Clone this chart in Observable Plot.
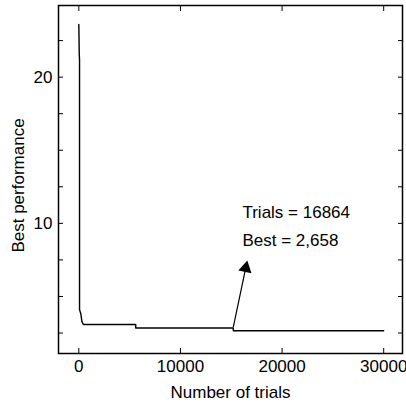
<!DOCTYPE html>
<html><head><meta charset="utf-8">
<script src="https://cdn.jsdelivr.net/npm/d3@7"></script>
<script src="https://cdn.jsdelivr.net/npm/@observablehq/plot@0.6"></script>
<style>body{margin:0;background:#fff}</style>
</head><body><div id="chart"></div>
<script>
// Data
const trials = [0, 40, 70, 70, 200, 300, 450, 5600, 5600, 15200, 15200, 30000];
const best   = [23.6, 21.6, 21.2, 4.1, 3.8, 3.3, 3.08, 3.08, 2.84, 2.84, 2.658, 2.658];
const xTicks = [0, 10000, 20000, 30000];
const yTicks = [2.5, 5, 7.5, 10, 12.5, 15, 17.5, 20, 22.5];
const yLabelled = [10, 20];
const annotationLines = ["Trials = 16864", "Best = 2,658"];
const annotationX = [16100, 16100];
const annotationY = [10.75, 8.84];
const arrowTail = [{x: 15200, y: 2.9}];
const arrowHead = [{x: 16420, y: 6.94}];

const data = trials.map((t, i) => ({t, b: best[i]}));
const links = [{x1: arrowTail[0].x, y1: arrowTail[0].y, x2: arrowHead[0].x, y2: arrowHead[0].y}];
const ann = annotationLines.map((s, i) => ({s, x: annotationX[i], y: annotationY[i]}));

const chart = Plot.plot({
  width: 406, height: 403,
  marginLeft: 58, marginRight: 4, marginTop: 5, marginBottom: 50,
  x: {domain: [-2000, 31850]},
  y: {domain: [1.1, 24.9]},
  style: {fontFamily: "'Liberation Sans', Arial, sans-serif", fontSize: "17px", background: "white", color: "black"},
  marks: [
    Plot.frame({stroke: "black", strokeWidth: 1.5}),
    Plot.axisX(xTicks, {anchor: "bottom", tickSize: -5, tickFormat: () => "", label: null}),
    Plot.axisX(xTicks, {anchor: "top", tickSize: -5, tickFormat: () => "", label: null}),
    Plot.axisX(xTicks, {anchor: "bottom", tickSize: 0, tickPadding: 6, label: null, fontSize: 17, tickFormat: d => String(d)}),
    Plot.axisY(yTicks, {anchor: "left", tickSize: -5, tickFormat: () => "", label: null}),
    Plot.axisY(yTicks, {anchor: "right", tickSize: -5, tickFormat: () => "", label: null}),
    Plot.axisY(yLabelled, {anchor: "left", tickSize: 0, tickPadding: 6, label: null, fontSize: 17, tickFormat: d => String(d)}),
    Plot.text(["Number of trials"], {frameAnchor: "bottom", textAnchor: "middle", lineAnchor: "top", dy: 32, fontSize: 17}),
    Plot.text(["Best performance"], {frameAnchor: "left", textAnchor: "middle", rotate: -90, dx: -40, dy: 6, fontSize: 17}),
    Plot.line(data, {x: "t", y: "b", stroke: "black", strokeWidth: 1.4}),
    Plot.link(links, {x1: "x1", y1: "y1", x2: "x2", y2: "y2", stroke: "black", strokeWidth: 1.2}),
    Plot.dot(arrowHead, {x: "x", y: "y", symbol: "triangle", r: 5, fill: "black", stroke: "none", rotate: 12}),
    Plot.text(ann, {x: "x", y: "y", text: "s", textAnchor: "start", fontSize: 17})
  ]
});
document.getElementById("chart").appendChild(chart);
</script>
</body></html>
